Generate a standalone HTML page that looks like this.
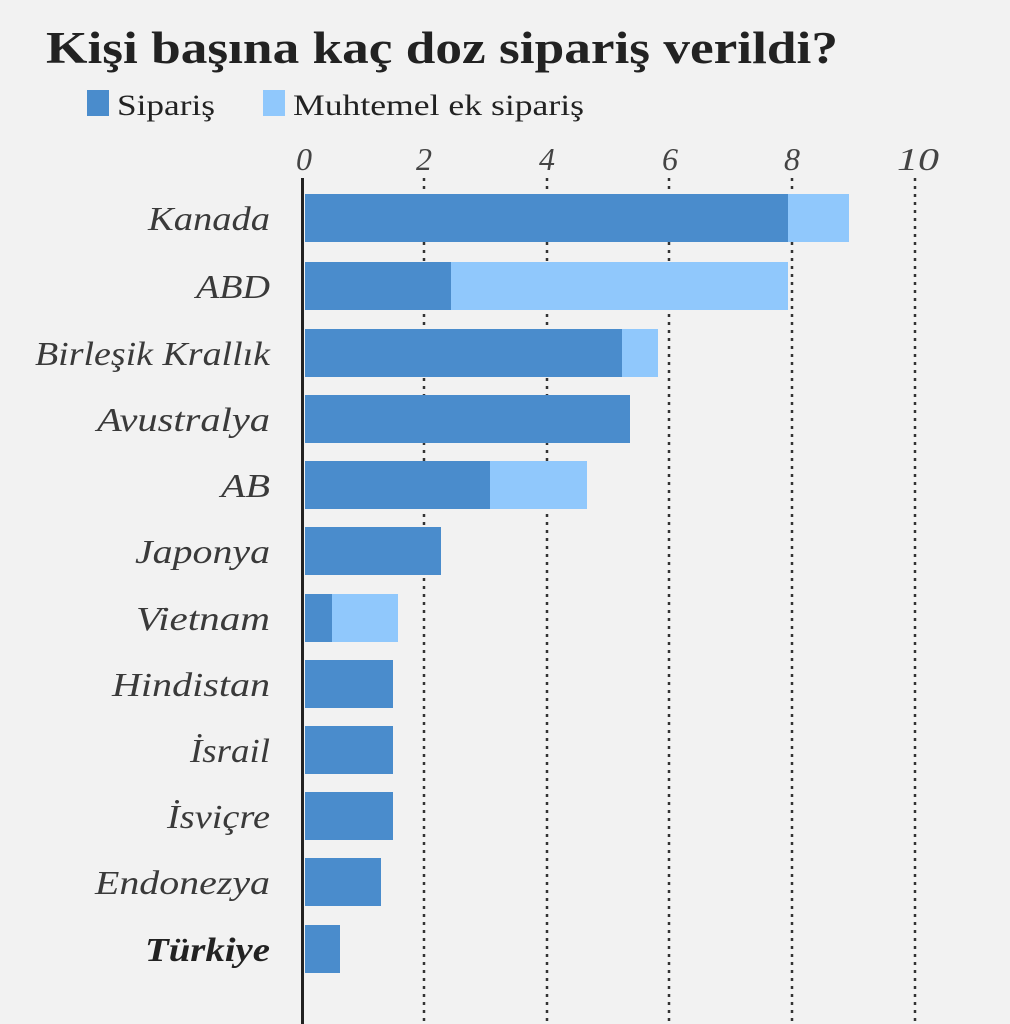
<!DOCTYPE html>
<html><head><meta charset="utf-8"><style>
body{margin:0;background:#f2f2f2;}
svg{display:block}
</style></head><body>
<svg width="1010" height="1024" xmlns="http://www.w3.org/2000/svg">
<rect width="1010" height="1024" fill="#f2f2f2"/>
<text x="46" y="63" font-family="Liberation Serif, serif" font-weight="bold" font-size="45" fill="#222" textLength="792" lengthAdjust="spacingAndGlyphs">Kişi başına kaç doz sipariş verildi?</text>
<rect x="87" y="90" width="22" height="26" fill="#4a8ccc"/>
<text x="117" y="115" font-family="Liberation Serif, serif" font-size="30" fill="#222" textLength="98" lengthAdjust="spacingAndGlyphs">Sipariş</text>
<rect x="263" y="90" width="22" height="26" fill="#90c8fc"/>
<text x="293" y="115" font-family="Liberation Serif, serif" font-size="30" fill="#222" textLength="291" lengthAdjust="spacingAndGlyphs">Muhtemel ek sipariş</text>
<g font-family="Liberation Serif, serif" font-style="italic" font-size="32" fill="#444" text-anchor="middle">
<text x="304" y="170">0</text><text x="424" y="170">2</text><text x="547" y="170">4</text><text x="670" y="170">6</text><text x="792" y="170">8</text><text x="918" y="170" textLength="42" lengthAdjust="spacingAndGlyphs">10</text>
</g>
<g stroke="#333" stroke-width="2.5" stroke-dasharray="3,5">
<line x1="424" y1="178" x2="424" y2="1024"/><line x1="547" y1="178" x2="547" y2="1024"/><line x1="669" y1="178" x2="669" y2="1024"/><line x1="792" y1="178" x2="792" y2="1024"/><line x1="915" y1="178" x2="915" y2="1024"/>
</g>
<g fill="#4a8ccc">
<rect x="305" y="194" width="483" height="48"/>
<rect x="305" y="262" width="146" height="48"/>
<rect x="305" y="329" width="317" height="48"/>
<rect x="305" y="395" width="325" height="48"/>
<rect x="305" y="461" width="185" height="48"/>
<rect x="305" y="527" width="136" height="48"/>
<rect x="305" y="594" width="27" height="48"/>
<rect x="305" y="660" width="88" height="48"/>
<rect x="305" y="726" width="88" height="48"/>
<rect x="305" y="792" width="88" height="48"/>
<rect x="305" y="858" width="76" height="48"/>
<rect x="305" y="925" width="35" height="48"/>
</g>
<g fill="#90c8fc">
<rect x="788" y="194" width="61" height="48"/>
<rect x="451" y="262" width="337" height="48"/>
<rect x="622" y="329" width="36" height="48"/>
<rect x="490" y="461" width="97" height="48"/>
<rect x="332" y="594" width="66" height="48"/>
</g>
<rect x="301" y="178" width="3" height="846" fill="#222"/>
<g font-family="Liberation Serif, serif" font-style="italic" font-size="34" fill="#3a3a3a">
<text x="148" y="230" textLength="122" lengthAdjust="spacingAndGlyphs">Kanada</text>
<text x="196" y="298" textLength="74" lengthAdjust="spacingAndGlyphs">ABD</text>
<text x="35" y="365" textLength="235" lengthAdjust="spacingAndGlyphs">Birleşik Krallık</text>
<text x="97" y="431" textLength="173" lengthAdjust="spacingAndGlyphs">Avustralya</text>
<text x="221" y="497" textLength="49" lengthAdjust="spacingAndGlyphs">AB</text>
<text x="135" y="563" textLength="135" lengthAdjust="spacingAndGlyphs">Japonya</text>
<text x="136" y="630" textLength="134" lengthAdjust="spacingAndGlyphs">Vietnam</text>
<text x="112" y="696" textLength="158" lengthAdjust="spacingAndGlyphs">Hindistan</text>
<text x="190" y="762" textLength="80" lengthAdjust="spacingAndGlyphs">İsrail</text>
<text x="167" y="828" textLength="103" lengthAdjust="spacingAndGlyphs">İsviçre</text>
<text x="95" y="894" textLength="175" lengthAdjust="spacingAndGlyphs">Endonezya</text>
<text x="145" y="961" font-weight="bold" fill="#222" textLength="125" lengthAdjust="spacingAndGlyphs">Türkiye</text>
</g>
</svg>
</body></html>
